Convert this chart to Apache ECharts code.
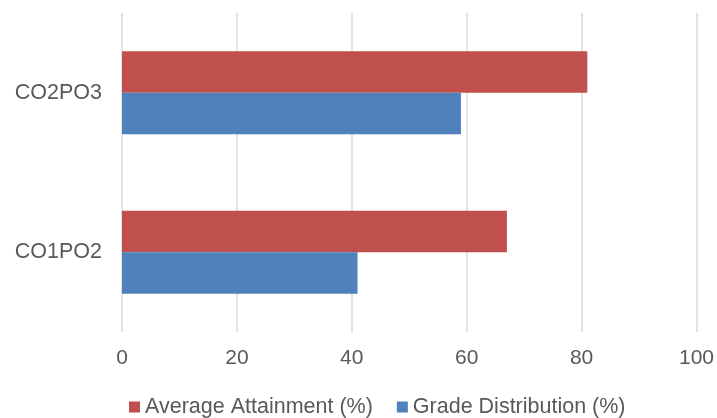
<!DOCTYPE html>
<html>
<head>
<meta charset="utf-8">
<script src="https://cdn.jsdelivr.net/npm/echarts@6/dist/echarts.min.js"></script>
<style>
  html, body { margin: 0; padding: 0; background: #fff; }
  #chart { width: 717px; height: 418px; }
</style>
</head>
<body>
<div id="chart"></div>
<script>
// Course outcome / programme outcome pairs
const categories = ['CO1PO2', 'CO2PO3'];
const averageAttainment = [67, 81];
const gradeDistribution = [41, 59];
const seriesNames = ['Average Attainment (%)', 'Grade Distribution (%)'];
const xTicks = { min: 0, max: 100, interval: 20 };

const chart = echarts.init(document.getElementById('chart'), null, { renderer: 'canvas' });

const font = 'Liberation Sans, Arial, sans-serif';

chart.setOption({
  backgroundColor: '#ffffff',
  animation: false,
  textStyle: { fontFamily: font },
  grid: { left: 122, right: 20, top: 13, bottom: 86, containLabel: false },
  legend: {
    data: seriesNames,
    top: 391,
    left: 124,
    itemWidth: 11,
    itemHeight: 11,
    itemGap: 24,
    icon: 'rect',
    textStyle: { color: '#595959', fontSize: 21.5, fontFamily: font }
  },
  xAxis: {
    type: 'value',
    min: xTicks.min,
    max: xTicks.max,
    interval: xTicks.interval,
    axisLine: { show: false },
    axisTick: { show: false },
    axisLabel: { color: '#595959', fontSize: 21, margin: 16 },
    splitLine: { show: true, lineStyle: { color: '#d9d9d9', width: 1.5 } }
  },
  yAxis: {
    type: 'category',
    data: categories,
    axisLine: { show: false },
    axisTick: { show: false },
    axisLabel: { color: '#595959', fontSize: 21.5, margin: 20, padding: [10, 0, 0, 0] },
    splitLine: { show: false }
  },
  series: [
    {
      name: seriesNames[0],
      type: 'bar',
      data: averageAttainment,
      itemStyle: { color: '#c0504d' },
      barGap: '0%',
      barCategoryGap: '48%'
    },
    {
      name: seriesNames[1],
      type: 'bar',
      data: gradeDistribution,
      itemStyle: { color: '#4f81bd' },
      barGap: '0%',
      barCategoryGap: '48%'
    }
  ]
});
</script>
</body>
</html>
